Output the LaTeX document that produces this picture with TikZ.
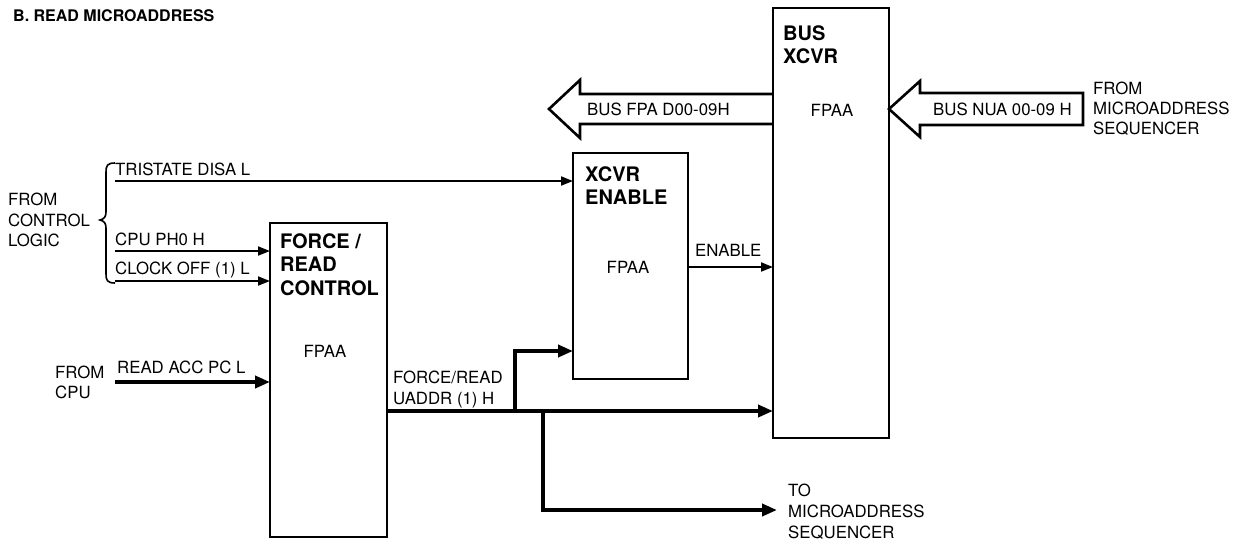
\documentclass[tikz,border=0pt]{standalone}
\usepackage{fontspec}
\setmainfont{TeX Gyre Heros}
\usetikzlibrary{arrows.meta}
\begin{document}
\begin{tikzpicture}[x=1pt,y=-1pt,
  box/.style={draw, line width=2.6pt, inner sep=0pt, outer sep=0pt},
  ttl/.style={font=\fontsize{20}{23.5}\selectfont\bfseries, inner sep=0pt, align=left, anchor=north west},
  lab/.style={font=\fontsize{16.8}{20.5}\selectfont, inner sep=0pt, align=left, anchor=north west},
  fpaa/.style={font=\fontsize{16.8}{20}\selectfont, inner sep=0pt},
  sig/.style={line width=1.8pt, -{Triangle[length=12pt,width=9pt]}},
  thickarr/.style={line width=4.5pt, line join=miter, -{Triangle[length=15pt,width=12pt]}},
  hollow/.style={line width=2.6pt, line join=miter}]
\useasboundingbox (0,0) rectangle (1242,542);

% title
\node[lab, font=\fontsize{16}{20}\selectfont\bfseries] (title) at (13,9) {B. READ MICROADDRESS};

% boxes
\node[box, minimum width=116pt, minimum height=430pt] (bus) at (831,223) {};
\node[box, minimum width=115pt, minimum height=226pt] (xen) at (630.5,266) {};
\node[box, minimum width=117pt, minimum height=314pt] (frc) at (328.5,380) {};

\node[ttl] (busT) at (783,25) {BUS\\XCVR};
\node[ttl] (xenT) at (585,166) {XCVR\\ENABLE};
\node[ttl] (frcT) at (280,233) {FORCE /\\READ\\CONTROL};

\node[fpaa] (busF) at (832,110) {FPAA};
\node[fpaa] (xenF) at (628,267) {FPAA};
\node[fpaa] (frcF) at (325,351) {FPAA};

% hollow bus arrows
\coordinate (la) at (bus.west |- 0,109);
\draw[hollow] (la) ++(0,-15) -- (580,94) -- (580,80) -- (549,109) -- (580,138) -- (580,124) -- ++(193,0);
\node[lab] (fpaD) at (587,103) {BUS FPA D00-09H};
\coordinate (ra) at (bus.east |- 0,109);
\draw[hollow] (ra) -- (920,81) -- (920,93) -- (1083,93) -- (1083,125) -- (920,125) -- (920,137) -- cycle;
\node[lab] (nuaD) at (933,103) {BUS NUA 00-09 H};
\node[lab, font=\fontsize{16.8}{20}\selectfont] (fromSeq) at (1093,82) {FROM\\MICROADDRESS\\SEQUENCER};

% control logic brace and signals
\node[lab, font=\fontsize{16.8}{20.5}\selectfont] (fromCL) at (8,193) {FROM\\CONTROL\\LOGIC};
\draw[line width=1.6pt] (115,163) .. controls (107,163) and (106,166) .. (106,172)
  -- (106,212) .. controls (106,217) and (104,219) .. (100,220)
  .. controls (104,221) and (106,223) .. (106,228)
  -- (106,274) .. controls (106,280) and (107,283) .. (115,283);

\coordinate (tsrc) at (115,181);
\coordinate (csrc) at (115,251);
\coordinate (ksrc) at (115,281);
\coordinate (rsrc) at (115,382);
\draw[sig] (tsrc) -- (tsrc -| xen.west);
\draw[sig] (csrc) -- (csrc -| frc.west);
\draw[sig] (ksrc) -- (ksrc -| frc.west);
\draw[thickarr] (rsrc) -- (rsrc -| frc.west);
\node[lab] (tsL) at (115,163) {TRISTATE DISA L};
\node[lab] (cpL) at (115,233) {CPU PH0 H};
\node[lab] (ckL) at (115,262) {CLOCK OFF (1) L};
\node[lab] (raL) at (117,361) {READ ACC PC L};
\node[lab, font=\fontsize{16.8}{20}\selectfont] (fromCPU) at (55,366) {FROM\\CPU};

% enable
\coordinate (en) at (xen.east |- 0,267);
\draw[sig] (en) -- (en -| bus.west);
\node[lab] (enL) at (695,244) {ENABLE};

% force/read output bus
\coordinate (fo) at (frc.east |- 0,411);
\coordinate (j1) at (515,411);
\coordinate (j2) at (543,411);
\coordinate (tomseq) at (777,510);
\draw[thickarr] (fo) -- (fo -| bus.west);
\draw[thickarr] (j1) |- (xen.west |- 0,351);
\draw[thickarr] (j2) |- (tomseq);
\node[lab, font=\fontsize{16.8}{21}\selectfont] (frL) at (393,371) {FORCE/READ\\UADDR (1) H};
\node[lab, font=\fontsize{16.8}{21}\selectfont] (toSeq) at (788,484) {TO\\MICROADDRESS\\SEQUENCER};
\end{tikzpicture}
\end{document}
